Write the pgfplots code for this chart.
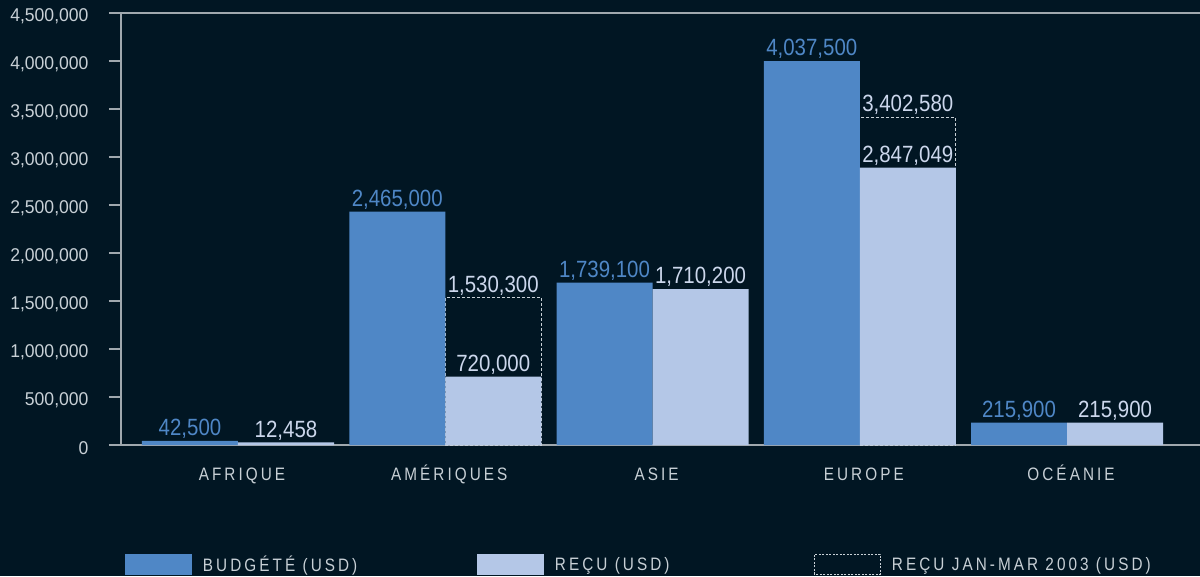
\documentclass[border=0pt]{standalone}
\usepackage{fontspec}
\setmainfont{Liberation Sans}
\newfontfamily\tickfont[FakeStretch=0.95]{Liberation Sans}
\newfontfamily\lblfont[FakeStretch=0.87]{Liberation Sans}
\newfontfamily\capfont[FakeStretch=0.85,LetterSpace=17]{Liberation Sans}
\usepackage{pgfplots}
\usepackage{pgfplotstable}
\pgfplotsset{compat=1.18}
\definecolor{bg}{RGB}{1,22,35}
\definecolor{budg}{RGB}{79,135,198}
\definecolor{recu}{RGB}{180,199,231}
\definecolor{axgray}{RGB}{160,168,174}
\definecolor{txtgray}{RGB}{200,208,214}
\definecolor{recutxt}{RGB}{204,215,236}

\pgfplotstableread{
x y label
-0.2316 42500 42,500
0.7684 2430000 2,465,000
1.7684 1691000 1,739,100
2.7684 4000000 4,037,500
3.7684 232000 215,900
}\budget
\pgfplotstableread{
x y label
0.2316 28000 12,458
1.2316 711000 720,000
2.2316 1625000 1,710,200
3.2316 2889000 2,847,049
4.2316 232000 215,900
}\recu
\pgfplotstableread{
x y label
1.2316 1534000 1,530,300
3.2316 3410000 3,402,580
}\janmar

\begin{document}
\begin{tikzpicture}
\fill[bg] (0,0) rectangle (1200pt,576pt);
\begin{axis}[
  at={(121pt,131pt)}, anchor=south west,
  scale only axis, width=1079pt, height=432pt,
  xmin=-0.5645, xmax=4.6417, ymin=0, ymax=4500000,
  axis x line*=box, axis y line*=left,
  axis line style={draw=axgray, line width=1.5pt, -},
  tick align=outside, major tick length=12pt,
  ytick={0,500000,...,4500000},
  ytick style={draw=axgray, line width=1.5pt},
  scaled y ticks=false,
  /pgf/number format/.cd, fixed, 1000 sep={,}, assume math mode=true,
  /pgfplots/.cd,
  yticklabel style={font=\tickfont\fontsize{18.5}{18.5}\selectfont, text=txtgray, anchor=east, xshift=-17pt, yshift=-3pt},
  xtick={0,1,2,3,4},
  xticklabels={AFRIQUE,AMÉRIQUES,ASIE,EUROPE,OCÉANIE},
  xtick style={draw=none},
  xticklabel style={font=\capfont\fontsize{18}{18}\selectfont, text=txtgray, anchor=base, yshift=-23pt, xshift=4pt},
  legend columns=3,
  legend style={draw=none, fill=none, inner sep=0pt, outer sep=0pt,
    at={(0.0037,-0.3009)}, anchor=south west,
    font=\capfont\fontsize{18}{18}\selectfont, text=txtgray,
    nodes={inner sep=0pt, outer sep=0pt},
    /tikz/every odd column/.append style={column sep=11pt}},
  clip=false,
]
\addplot[ybar, bar width=0.4632, bar shift=0pt, fill=none, draw=txtgray,
  line width=1.3pt, dash pattern=on 3pt off 2pt, forget plot,
  nodes near coords, point meta=explicit symbolic,
  every node near coord/.append style={font=\lblfont\fontsize{23.5}{23.5}\selectfont, text=recutxt, anchor=south, inner sep=2pt}]
  table[x=x, y=y, meta=label] {\janmar};
\addplot[ybar, bar width=0.4632, bar shift=0pt, fill=budg, draw=none,
  legend image code/.code={\fill[budg] (0pt,-10.5pt) rectangle (67pt,10.5pt);},
  nodes near coords, point meta=explicit symbolic,
  every node near coord/.append style={font=\lblfont\fontsize{23.5}{23.5}\selectfont, text=budg, anchor=south, inner sep=2pt}]
  table[x=x, y=y, meta=label] {\budget};
\addlegendentry{\makebox[274pt][l]{BUDGÉTÉ (USD)}}
\addplot[ybar, bar width=0.4632, bar shift=0pt, fill=recu, draw=none,
  legend image code/.code={\fill[recu] (0pt,-10.5pt) rectangle (67pt,10.5pt);},
  nodes near coords, point meta=explicit symbolic,
  every node near coord/.append style={font=\lblfont\fontsize{23.5}{23.5}\selectfont, text=recutxt, anchor=south, inner sep=2pt}]
  table[x=x, y=y, meta=label] {\recu};
\addlegendentry{\makebox[259pt][l]{REÇU (USD)}}
\addlegendimage{legend image code/.code={\draw[txtgray, line width=1pt, dash pattern=on 2pt off 1.5pt] (0.5pt,-10pt) rectangle (66.5pt,10pt);}}
\addlegendentry{REÇU JAN-MAR 2003 (USD)}
\end{axis}
\pgfresetboundingbox
\useasboundingbox (0,0) rectangle (1200pt,576pt);
\end{tikzpicture}
\end{document}
